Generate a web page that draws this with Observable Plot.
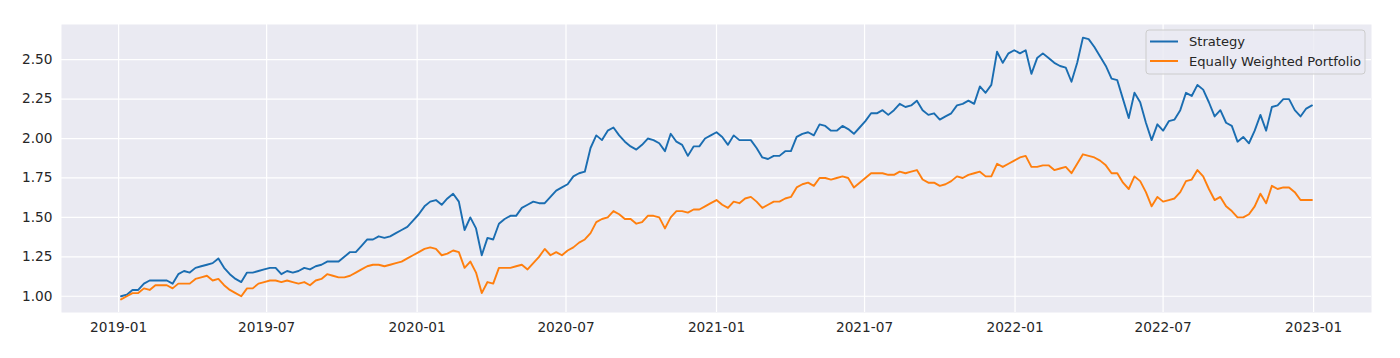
<!DOCTYPE html>
<html>
<head>
<meta charset="utf-8">
<script src="https://cdn.jsdelivr.net/npm/d3@7"></script>
<script src="https://cdn.jsdelivr.net/npm/@observablehq/plot@0.6"></script>
<style>
  html, body { margin: 0; padding: 0; background: #ffffff; }
  #chart { width: 1400px; height: 358px; }
</style>
</head>
<body>
<div id="chart"></div>
<script>
// ---- data (weekly, Fridays) ----
const startDate = "2019-01-04";
const seriesNames = ["Strategy", "Equally Weighted Portfolio"];
const seriesColors = ["#1a6db1", "#ff7f0e"];

const strategy = [
  1.00,1.01,1.04,1.04,1.08,1.10,1.10,1.10,1.10,1.08,
  1.14,1.16,1.15,1.18,1.19,1.20,1.21,1.24,1.18,1.14,
  1.11,1.09,1.15,1.15,1.16,1.17,1.18,1.18,1.14,1.16,
  1.15,1.16,1.18,1.17,1.19,1.20,1.22,1.22,1.22,1.25,
  1.28,1.28,1.32,1.36,1.36,1.38,1.37,1.38,1.40,1.42,
  1.44,1.48,1.52,1.57,1.60,1.61,1.58,1.62,1.65,1.60,
  1.42,1.50,1.43,1.26,1.37,1.36,1.46,1.49,1.51,1.51,
  1.56,1.58,1.60,1.59,1.59,1.63,1.67,1.69,1.71,1.76,
  1.78,1.79,1.94,2.02,1.99,2.05,2.07,2.02,1.98,1.95,
  1.93,1.96,2.00,1.99,1.97,1.92,2.03,1.98,1.96,1.89,
  1.95,1.95,2.00,2.02,2.04,2.01,1.96,2.02,1.99,1.99,
  1.99,1.94,1.88,1.87,1.89,1.89,1.92,1.92,2.01,2.03,
  2.04,2.02,2.09,2.08,2.05,2.05,2.08,2.06,2.03,2.07,
  2.11,2.16,2.16,2.18,2.15,2.18,2.22,2.20,2.21,2.24,
  2.18,2.15,2.16,2.12,2.14,2.16,2.21,2.22,2.24,2.22,
  2.33,2.29,2.34,2.55,2.48,2.54,2.56,2.54,2.56,2.41,
  2.51,2.54,2.51,2.48,2.46,2.45,2.36,2.48,2.64,2.63,
  2.58,2.52,2.46,2.38,2.37,2.25,2.13,2.29,2.23,2.10,
  1.99,2.09,2.05,2.11,2.12,2.18,2.29,2.27,2.34,2.31,
  2.23,2.14,2.18,2.10,2.08,1.98,2.01,1.97,2.05,2.15,
  2.05,2.20,2.21,2.25,2.25,2.18,2.14,2.19,2.21
];

const equalWeighted = [
  0.98,1.00,1.02,1.02,1.05,1.04,1.07,1.07,1.07,1.05,
  1.08,1.08,1.08,1.11,1.12,1.13,1.10,1.11,1.07,1.04,
  1.02,1.00,1.05,1.05,1.08,1.09,1.10,1.10,1.09,1.10,
  1.09,1.08,1.09,1.07,1.10,1.11,1.14,1.13,1.12,1.12,
  1.13,1.15,1.17,1.19,1.20,1.20,1.19,1.20,1.21,1.22,
  1.24,1.26,1.28,1.30,1.31,1.30,1.26,1.27,1.29,1.28,
  1.18,1.22,1.15,1.02,1.09,1.08,1.18,1.18,1.18,1.19,
  1.20,1.17,1.21,1.25,1.30,1.26,1.28,1.26,1.29,1.31,
  1.34,1.36,1.40,1.47,1.49,1.50,1.54,1.52,1.49,1.49,
  1.46,1.47,1.51,1.51,1.50,1.43,1.50,1.54,1.54,1.53,
  1.55,1.55,1.57,1.59,1.61,1.58,1.56,1.60,1.59,1.62,
  1.63,1.60,1.56,1.58,1.60,1.60,1.62,1.63,1.69,1.71,
  1.72,1.70,1.75,1.75,1.74,1.75,1.76,1.75,1.69,1.72,
  1.75,1.78,1.78,1.78,1.77,1.77,1.79,1.78,1.79,1.80,
  1.74,1.72,1.72,1.70,1.71,1.73,1.76,1.75,1.77,1.78,
  1.79,1.76,1.76,1.84,1.82,1.84,1.86,1.88,1.89,1.82,
  1.82,1.83,1.83,1.80,1.81,1.82,1.78,1.84,1.90,1.89,
  1.88,1.86,1.83,1.78,1.78,1.72,1.68,1.76,1.73,1.66,
  1.57,1.63,1.60,1.61,1.62,1.66,1.73,1.74,1.80,1.76,
  1.68,1.61,1.63,1.57,1.54,1.50,1.50,1.52,1.57,1.65,
  1.59,1.70,1.68,1.69,1.69,1.66,1.61,1.61,1.61
];

const xTicks = ["2019-01-01","2019-07-01","2020-01-01","2020-07-01","2021-01-01",
                "2021-07-01","2022-01-01","2022-07-01","2023-01-01"];
const yTicks = [1.00, 1.25, 1.50, 1.75, 2.00, 2.25, 2.50];

// ---- build table ----
const start = new Date(startDate + "T00:00:00Z");
const rows = [];
[strategy, equalWeighted].forEach((arr, s) => {
  arr.forEach((v, i) => rows.push({date: d3.utcDay.offset(start, 7 * i), value: v, series: seriesNames[s]}));
});
const xTickDates = xTicks.map(d => new Date(d + "T00:00:00Z"));

// 5% margins like matplotlib
const xExt = d3.extent(rows, d => d.date);
const xPad = (xExt[1] - xExt[0]) * 0.05;
const yExt = d3.extent(rows, d => d.value);
const yPad = (yExt[1] - yExt[0]) * 0.05;

const textColor = "#262626";
const tickFontSize = 13.7;
const legendFontSize = 13.1;

function legendMark(index, scales, values, dims) {
  const g = d3.create("svg:g")
    .attr("font-family", "'DejaVu Sans', sans-serif")
    .attr("font-size", legendFontSize + "px")
    .attr("text-anchor", "start");
  const w = 219, h = 44;
  const x0 = dims.width - dims.marginRight - 6 - w;
  const y0 = dims.marginTop + 6;
  g.append("rect")
    .attr("x", x0).attr("y", y0).attr("width", w).attr("height", h)
    .attr("rx", 3).attr("ry", 3)
    .attr("fill", "#EAEAF2").attr("fill-opacity", 0.8)
    .attr("stroke", "#cccccc").attr("stroke-width", 1);
  seriesNames.forEach((name, i) => {
    const cy = y0 + 11.5 + i * 19.5;
    g.append("line")
      .attr("x1", x0 + 4).attr("x2", x0 + 32)
      .attr("y1", cy).attr("y2", cy)
      .attr("stroke", seriesColors[i]).attr("stroke-width", 2);
    g.append("text")
      .attr("x", x0 + 43).attr("y", cy)
      .attr("dy", "0.35em")
      .attr("text-anchor", "start")
      .attr("fill", textColor)
      .text(name);
  });
  return g.node();
}

const chart = Plot.plot({
  width: 1400,
  height: 358,
  marginLeft: 61,
  marginRight: 29,
  marginTop: 24,
  marginBottom: 46,
  style: {fontFamily: "'DejaVu Sans', sans-serif", fontSize: tickFontSize + "px", color: textColor, background: "#ffffff", overflow: "visible"},
  x: {type: "utc", domain: [new Date(+xExt[0] - xPad), new Date(+xExt[1] + xPad)]},
  y: {domain: [yExt[0] - yPad, yExt[1] + yPad]},
  color: {domain: seriesNames, range: seriesColors},
  marks: [
    Plot.frame({fill: "#EAEAF2", stroke: null}),
    Plot.gridX(xTickDates, {stroke: "#ffffff", strokeOpacity: 1, strokeWidth: 1.2}),
    Plot.gridY(yTicks, {stroke: "#ffffff", strokeOpacity: 1, strokeWidth: 1.2}),
    Plot.line(rows, {x: "date", y: "value", z: "series", stroke: "series", strokeWidth: 1.9, curve: "linear"}),
    Plot.axisX(xTickDates, {tickFormat: d3.utcFormat("%Y-%m"), tickSize: 0, tickPadding: 10, label: null, fill: textColor, fontSize: tickFontSize}),
    Plot.axisY(yTicks, {tickFormat: d3.format(".2f"), tickSize: 0, tickPadding: 9, label: null, fill: textColor, fontSize: tickFontSize}),
    legendMark
  ]
});
document.getElementById("chart").appendChild(chart);
</script>
</body>
</html>
